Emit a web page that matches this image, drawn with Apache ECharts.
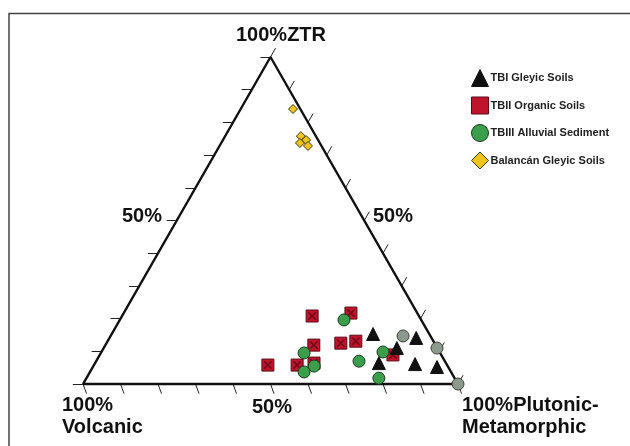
<!DOCTYPE html>
<html>
<head>
<meta charset="utf-8">
<script src="https://cdn.jsdelivr.net/npm/echarts@6/dist/echarts.min.js"></script>
<style>
  html, body { margin: 0; padding: 0; background: #fff; }
  #chart { width: 630px; height: 446px; }
</style>
</head>
<body>
<div id="chart"></div>
<script>
'use strict';

// compositions as [ZTR, Volcanic, Plutonic-Metamorphic] in %
const tbiGleyic = [
    [15.3, 15.0, 69.7], [14.1, 4.1, 81.8], [11.0, 10.8, 78.2],
    [6.4, 17.9, 75.7], [6.1, 8.4, 85.5], [5.2, 3.0, 91.8]
];
const tbiiOrganic = [
    [20.8, 28.5, 50.7], [21.7, 17.7, 60.6], [11.9, 32.5, 55.6],
    [12.5, 25.0, 62.5], [13.1, 20.7, 66.2], [5.8, 47.8, 46.4],
    [5.8, 40.0, 54.2], [6.4, 35.2, 58.4], [8.9, 12.9, 78.2]
];
const tbiiiAlluvial = [
    [19.6, 20.6, 59.8], [9.5, 36.3, 54.2], [5.5, 35.6, 58.9],
    [3.7, 39.2, 57.1], [7.0, 22.9, 70.1], [9.8, 15.1, 75.1],
    [1.8, 20.2, 78.0]
];
const tbiiiAlluvialGrey = [
    [14.7, 7.3, 78.0], [11.0, 0.1, 88.9], [0, 0, 100]
];
const balancanGleyic = [
    [84.1, 1.95, 13.95], [75.8, 4.0, 20.2], [74.6, 3.2, 22.2],
    [73.7, 5.3, 21.0], [72.8, 3.6, 23.6]
];
const seriesNames = ['TBI Gleyic Soils', 'TBII Organic Soils', 'TBIII Alluvial Sediment', 'Balancán Gleyic Soils'];
const tickSteps = [0, 10, 20, 30, 40, 50, 60, 70, 80, 90, 100];
const vertices = [[0, 100, 0], [0, 0, 100], [100, 0, 0], [0, 100, 0]];

const H = Math.sqrt(3) / 2;
// ternary -> cartesian
const toXY = c => [c[2] + c[0] / 2, c[0] * H];

// tick segments along each edge
const tickLen = 2.7;
const tickLines = [];
tickSteps.forEach(t => {
    const f = t / 100;
    // bottom edge, slanted down-right
    tickLines.push({coords: [[100 * f, 0], [100 * f + 0.35 * tickLen, -0.94 * tickLen]]});
    // left edge, horizontal to the left
    tickLines.push({coords: [[50 * f, 100 * H * f], [50 * f - tickLen, 100 * H * f]]});
    // right edge, up-right
    tickLines.push({coords: [[100 - 50 * f, 100 * H * f], [100 - 50 * f + 0.5 * tickLen, 100 * H * f + H * tickLen]]});
});

const xPath = 'path://M0,0L3,0L10,7L17,0L20,0L20,3L13,10L20,17L20,20L17,20L10,13L3,20L0,20L0,17L7,10L0,3Z';

const label = (txt, x, y, align) => ({
    type: 'text',
    x: x,
    y: y,
    style: {
        text: txt,
        fill: '#111',
        font: 'bold 20px "Liberation Sans", Arial, sans-serif',
        textAlign: align || 'center',
        textVerticalAlign: 'middle'
    }
});

const chart = echarts.init(document.getElementById('chart'));
chart.setOption({
    animation: false,
    backgroundColor: '#fff',
    grid: {left: 8, width: 525, top: 6.4, height: 415.4},
    xAxis: {type: 'value', min: -20, max: 120, show: false},
    yAxis: {type: 'value', min: -10, max: 100, show: false},
    legend: {
        data: seriesNames,
        orient: 'vertical',
        left: 466,
        top: 64,
        itemWidth: 17,
        itemHeight: 17,
        itemGap: 9.5,
        itemStyle: {borderWidth: 1},
        textStyle: {
            fontSize: 11,
            fontWeight: 'bold',
            color: '#222',
            fontFamily: '"Liberation Sans", Arial, sans-serif',
            padding: [0, 0, 0, -3]
        }
    },
    graphic: [
        {
            type: 'rect',
            shape: {x: 9, y: 13.5, width: 700, height: 500},
            style: {fill: 'none', stroke: '#444', lineWidth: 1.5},
            silent: true
        },
        label('100%ZTR', 281, 35),
        label('50%', 142, 216),
        label('50%', 393, 216),
        label('50%', 272, 407),
        label('100%', 62, 405, 'left'),
        label('Volcanic', 62, 427, 'left'),
        label('100%Plutonic-', 462, 405, 'left'),
        label('Metamorphic', 462, 427, 'left')
    ],
    series: [
        {
            type: 'line',
            data: vertices.map(toXY),
            symbol: 'none',
            lineStyle: {color: '#111', width: 2.4},
            silent: true,
            z: 1
        },
        {
            type: 'lines',
            coordinateSystem: 'cartesian2d',
            data: tickLines,
            lineStyle: {color: '#222', width: 1, opacity: 1},
            silent: true,
            z: 1
        },
        {
            name: seriesNames[1],
            type: 'scatter',
            data: tbiiOrganic.map(toXY),
            symbol: 'rect',
            symbolSize: 12,
            itemStyle: {color: '#c0132c', borderColor: '#5a0a14', borderWidth: 1, opacity: 1},
            z: 3
        },
        {
            type: 'scatter',
            data: tbiiOrganic.map(toXY),
            symbol: xPath,
            symbolSize: 8,
            itemStyle: {color: '#5a0a14', opacity: 0.75},
            silent: true,
            z: 3
        },
        {
            name: seriesNames[2],
            type: 'scatter',
            data: tbiiiAlluvial.map(toXY),
            symbol: 'circle',
            symbolSize: 12,
            itemStyle: {color: '#3a9e4a', borderColor: '#1d3a22', borderWidth: 1, opacity: 1},
            z: 4
        },
        {
            type: 'scatter',
            data: tbiiiAlluvialGrey.map(toXY),
            symbol: 'circle',
            symbolSize: 12,
            itemStyle: {color: '#8c9a8e', borderColor: '#3b423c', borderWidth: 1, opacity: 1},
            z: 4
        },
        {
            name: seriesNames[0],
            type: 'scatter',
            data: tbiGleyic.map(toXY),
            symbol: 'triangle',
            symbolSize: 13,
            itemStyle: {color: '#111', borderColor: '#111', opacity: 1},
            z: 5
        },
        {
            name: seriesNames[3],
            type: 'scatter',
            data: balancanGleyic.map(toXY),
            symbol: 'diamond',
            symbolSize: 9,
            itemStyle: {color: '#f0c419', borderColor: '#3a3a20', borderWidth: 1, opacity: 1},
            z: 5
        }
    ]
});
</script>
</body>
</html>
